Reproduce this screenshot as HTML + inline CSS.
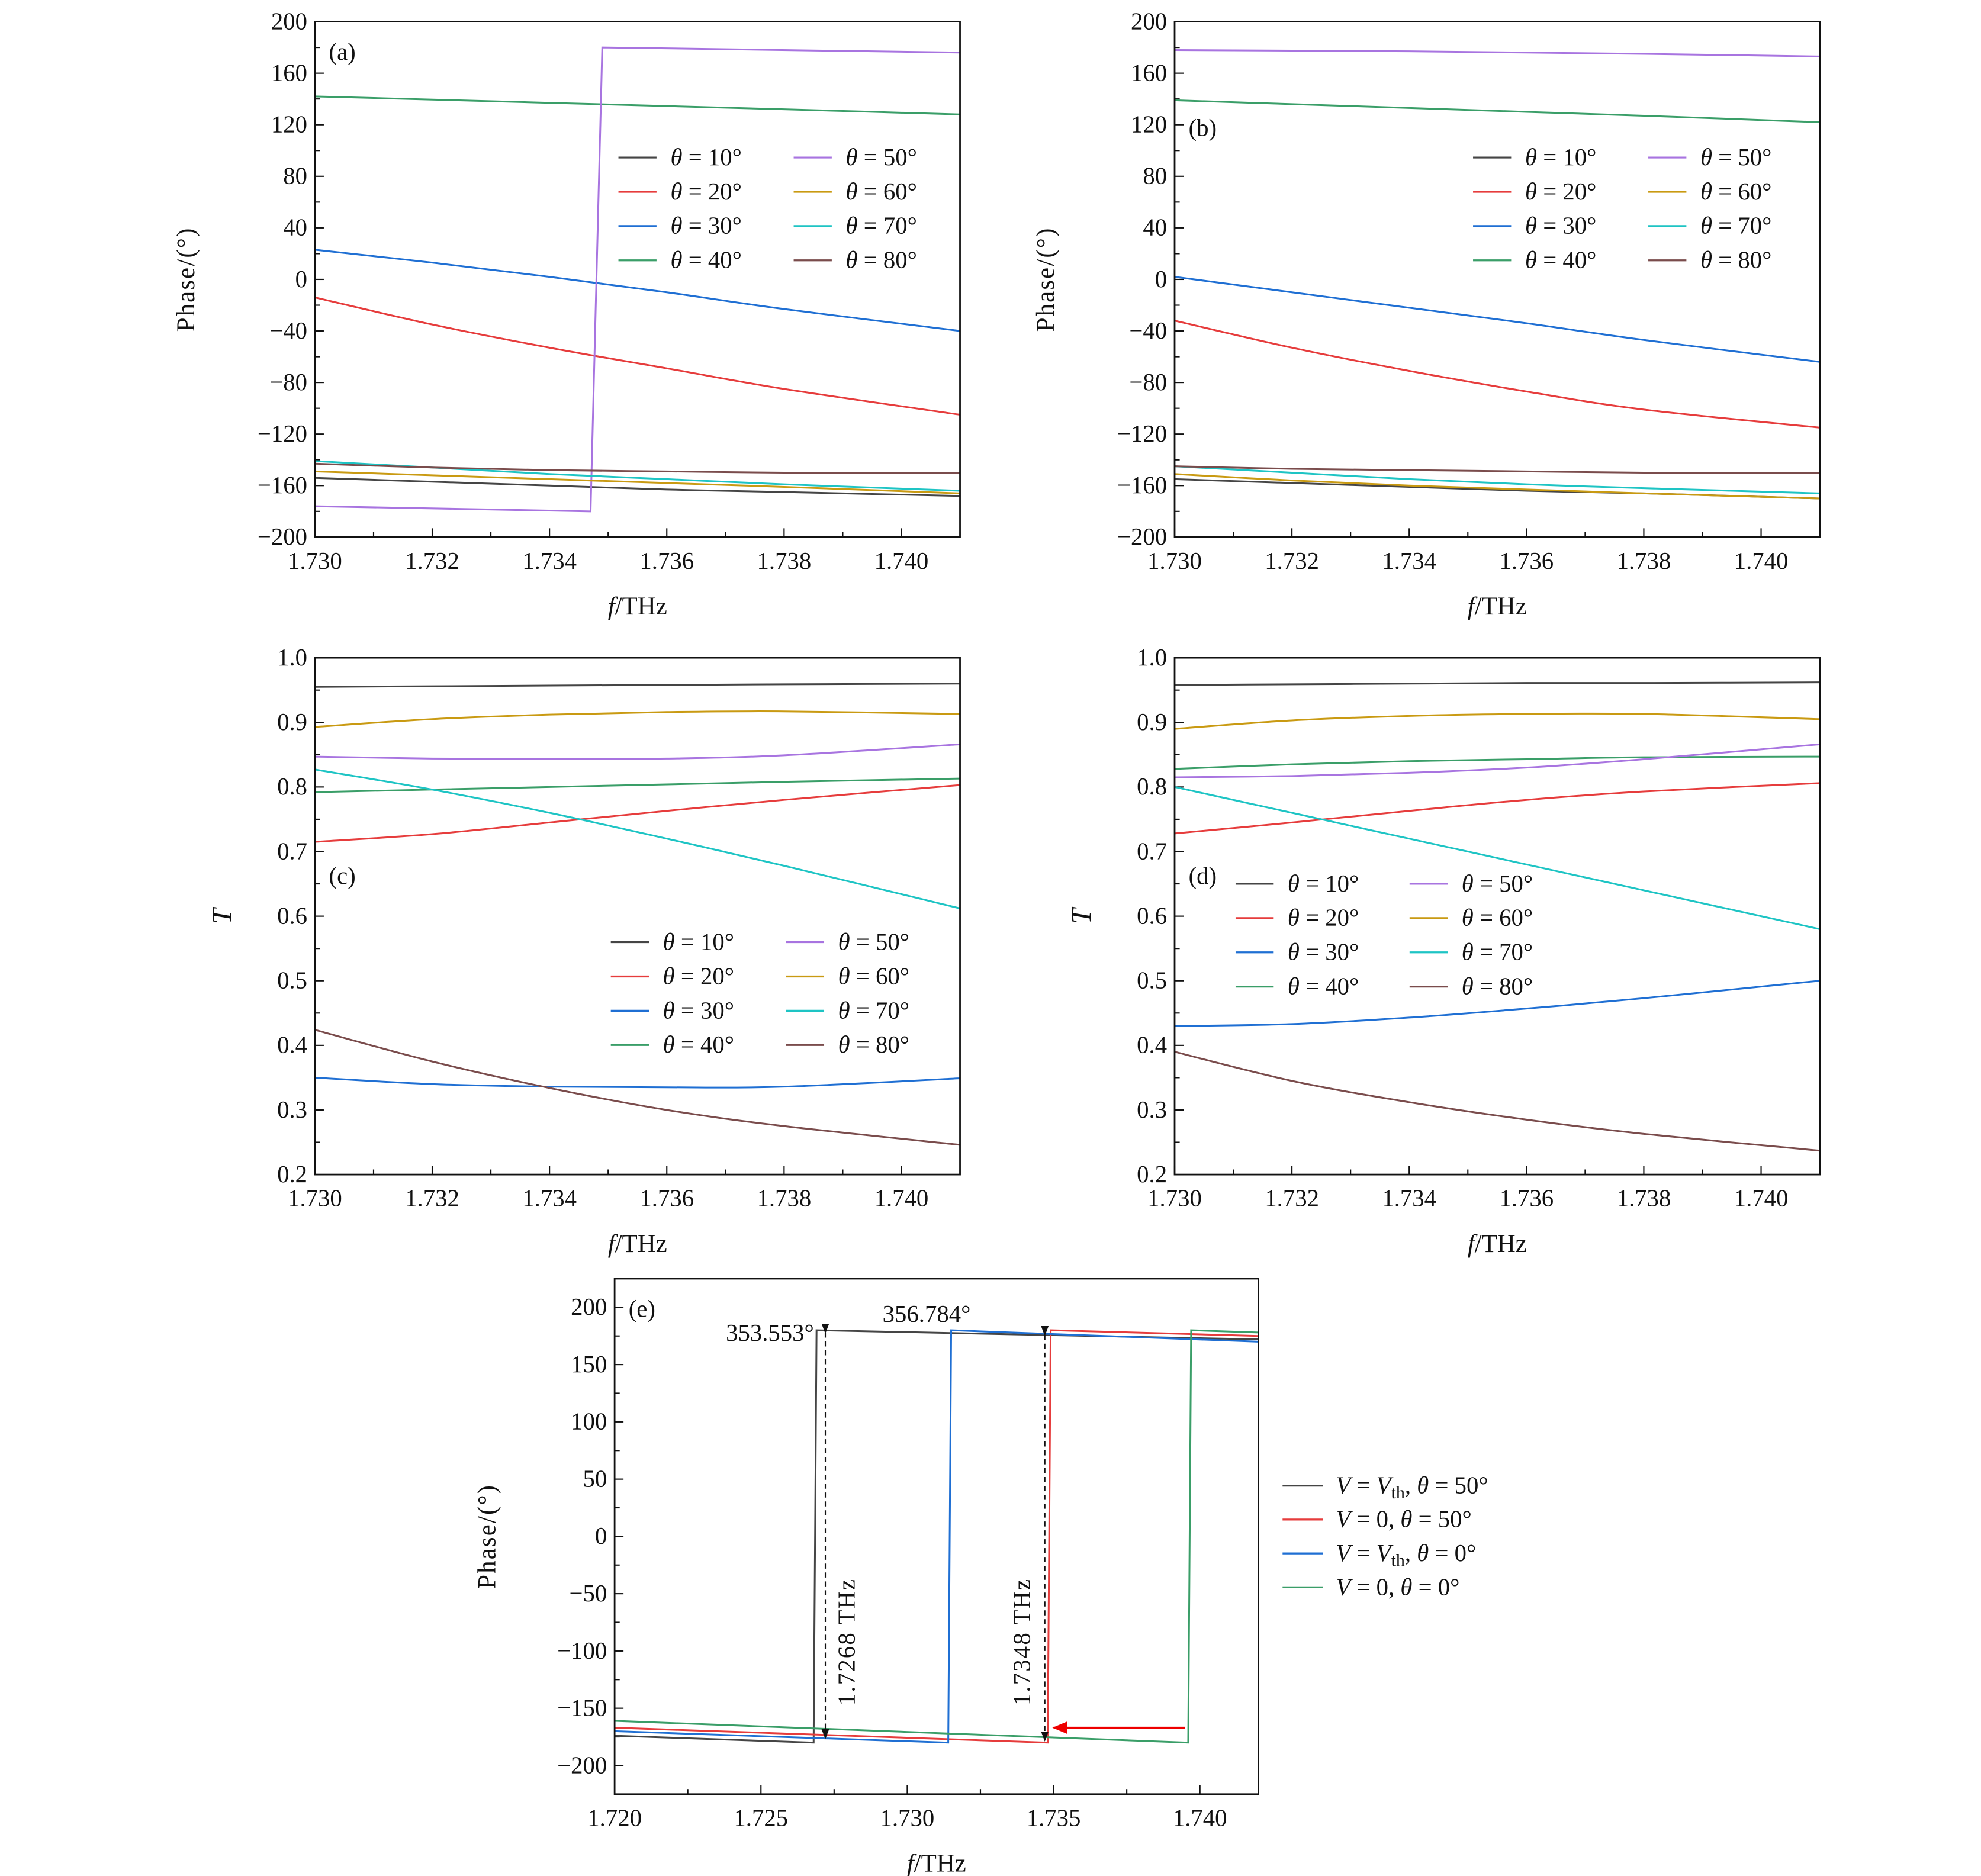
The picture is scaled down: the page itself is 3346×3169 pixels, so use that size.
<!DOCTYPE html>
<html><head><meta charset="utf-8"><style>
html,body{margin:0;padding:0;background:#fff}
svg{display:block}
text{font-family:"Liberation Serif",serif;fill:#111}
</style></head><body>
<svg id="fig" xmlns="http://www.w3.org/2000/svg" width="3346" height="3169" viewBox="0 0 1560 1477.4"></svg>
<script>
// ---- shared data ----
const xsAB = [1.730,1.732,1.734,1.736,1.738,1.741];
const seriesLabels = ["θ = 10°","θ = 20°","θ = 30°","θ = 40°","θ = 50°","θ = 60°","θ = 70°","θ = 80°"];
const colors = ["#454545","#e63c3c","#1f6fd3","#3a9e68","#a874e0","#c99a12","#1ec4c4","#7a4c4c"];
// panel (a) phase
const a10=[-154,-157,-160,-163,-165,-168];
const a20=[-14,-35,-53,-69,-85,-105];
const a30=[23,13,2,-10,-23,-40];
const a40=[142,139.5,137,134.5,132,128];
const a50x=[1.730,1.7347,1.7349,1.741];
const a50=[-176,-180,180,176];
const a60=[-149,-152,-155,-158,-161,-166];
const a70=[-141,-146,-151,-155,-159,-164];
const a80=[-143,-146,-148,-149,-150,-150];
// panel (b) phase
const b10=[-155,-158,-161,-164,-166,-170];
const b20=[-32,-53,-71,-87,-101,-115];
const b30=[2,-10,-22,-34,-47,-64];
const b40=[139,136,133,130,127,122];
const b50=[178,177.5,177,176,175,173];
const b60=[-151,-156,-160,-163,-166,-170];
const b70=[-145,-150,-155,-159,-162,-166];
const b80=[-145,-147,-148,-149,-150,-150];
// panel (c) transmission
const c10=[0.955,0.956,0.957,0.958,0.959,0.960];
const c20=[0.715,0.727,0.745,0.763,0.780,0.803];
const c30=[0.350,0.340,0.336,0.335,0.336,0.349];
const c40=[0.792,0.796,0.800,0.804,0.808,0.813];
const c50=[0.847,0.844,0.843,0.844,0.849,0.866];
const c60=[0.893,0.905,0.912,0.916,0.917,0.913];
const c70=[0.827,0.796,0.760,0.720,0.678,0.612];
const c80=[0.424,0.375,0.334,0.300,0.275,0.246];
// panel (d) transmission
const d10=[0.958,0.959,0.960,0.961,0.961,0.962];
const d20=[0.728,0.745,0.763,0.780,0.793,0.806];
const d30=[0.430,0.433,0.443,0.457,0.473,0.500];
const d40=[0.828,0.835,0.840,0.843,0.846,0.847];
const d50=[0.815,0.817,0.822,0.830,0.843,0.866];
const d60=[0.890,0.903,0.910,0.913,0.913,0.905];
const d70=[0.800,0.760,0.720,0.680,0.640,0.580];
const d80=[0.390,0.345,0.312,0.285,0.263,0.237];
// panel (e)
const eLabels=["V = Vth, θ = 50°","V = 0, θ = 50°","V = Vth, θ = 0°","V = 0, θ = 0°"];
const eColors=["#454545","#e63c3c","#1f6fd3","#3a9e68"];
const eBx=[1.720,1.7268,1.7269,1.742], eBy=[-174,-180,180,172];
const eRx=[1.720,1.7348,1.7349,1.742], eRy=[-167,-180,180,175];
const eUx=[1.720,1.7314,1.7315,1.742], eUy=[-170,-180,180,170];
const eGx=[1.720,1.7396,1.7397,1.742], eGy=[-161,-180,180,178];
const eArrowX=[1.7272,1.7347];
const eArrowTop=[178,176], eArrowBot=[-176,-178];
const eRedArrow=[1.7395,1.7350,-167];

const NS="http://www.w3.org/2000/svg";
const svg=document.getElementById('fig');
function mk(tag,attrs,parent,txt){const e=document.createElementNS(NS,tag);for(const k in attrs)e.setAttribute(k,attrs[k]);if(txt!==undefined)e.textContent=txt;(parent||svg).appendChild(e);return e;}
function catmull(pts){let d="M"+pts[0][0]+","+pts[0][1];for(let i=0;i<pts.length-1;i++){const p0=pts[i-1]||pts[i],p1=pts[i],p2=pts[i+1],p3=pts[i+2]||p2;
d+=" C"+(p1[0]+(p2[0]-p0[0])/6)+","+(p1[1]+(p2[1]-p0[1])/6)+" "+(p2[0]-(p3[0]-p1[0])/6)+","+(p2[1]-(p3[1]-p1[1])/6)+" "+p2[0]+","+p2[1];}return d;}
function fmt(v,dec){const s=Math.abs(v).toFixed(dec);return (v<-1e-9?"−":"")+s;}

function panel(o){
  const g=mk('g',{});
  const X=v=>o.L+(v-o.x0)/(o.x1-o.x0)*(o.R-o.L);
  const Y=v=>o.B-(v-o.y0)/(o.y1-o.y0)*(o.B-o.T);
  const yb=(o.yBase!==undefined)?o.yBase:o.y0;
  const ylo=(o.yLabLo!==undefined)?o.yLabLo:o.y0, yhi=(o.yLabHi!==undefined)?o.yLabHi:o.y1;
  for(let v=o.y0;v<=o.y1+1e-9;v+=o.ym){const k=(v-yb)/o.yM;const maj=Math.abs(k-Math.round(k))<1e-6;
    const t=mk('line',{x1:o.L,x2:o.L+(maj?7:4),y1:Y(v),y2:Y(v),stroke:'#111','stroke-width':1},g);
    if(maj&&v>=ylo-1e-9&&v<=yhi+1e-9){const l=mk('text',{x:o.L-6,y:Y(v)+6,'text-anchor':'end','font-size':19},g,fmt(v,o.yd));}}
  for(let v=o.x0;v<=o.x1+1e-9;v+=o.xm){const k=(v-o.x0)/o.xM;const maj=Math.abs(k-Math.round(k))<1e-6;
    const t=mk('line',{x1:X(v),x2:X(v),y1:o.B,y2:o.B-(maj?7:4),stroke:'#111'},g);
    if(maj){const l=mk('text',{x:X(v),y:o.B+25,'text-anchor':'middle','font-size':19},g,v.toFixed(3));}}
  const clip='clip-'+o.name;const cp=mk('clipPath',{id:clip},g);mk('rect',{x:o.L,y:o.T,width:o.R-o.L,height:o.B-o.T},cp);
  o.series.forEach((s,i)=>{const pts=s.x.map((x,j)=>[X(x),Y(s.y[j])]);
    const d=s.smooth?catmull(pts):"M"+pts.map(p=>p.join(",")).join(" L");
    const p=mk('path',{d:d,fill:'none',stroke:s.c,'stroke-width':1.4,'clip-path':'url(#'+clip+')'},g);
    });
  mk('rect',{x:o.L,y:o.T,width:o.R-o.L,height:o.B-o.T,fill:'none',stroke:'#111','stroke-width':1.3},g);
  const xl=mk('text',{x:(o.L+o.R)/2,y:o.B+61,'text-anchor':'middle','font-size':20},g);
  mk('tspan',{'font-style':'italic'},xl,'f');mk('tspan',{},xl,'/THz');
  const yl=mk('text',{x:0,y:0,'text-anchor':'middle','font-size':o.yItalic?22:20,'font-style':o.yItalic?'italic':'normal','letter-spacing':o.yItalic?0:1,transform:'translate('+o.yTx+','+(o.T+o.B)/2+') rotate(-90)'},g,o.yTitle);
  
  const pl=mk('text',{x:o.pl[0],y:o.pl[1],'font-size':19},g,o.plTxt);
  return {g,X,Y};
}
function legend8(g,lx1,lx2,y0){
  seriesLabels.forEach((t,i)=>{const col=i<4?lx1:lx2;const y=y0+(i%4)*27;
    const le=mk('g',{},g);
    mk('line',{x1:col,x2:col+30,y1:y,y2:y,stroke:colors[i],'stroke-width':1.5},le);
    const tx=mk('text',{x:col+41,y:y+6,'font-size':19},le);
    mk('tspan',{'font-style':'italic'},tx,'θ');mk('tspan',{},tx,t.slice(1));});
}
const phaseA=[a10,a20,a30,a40,null,a60,a70,a80];
const phaseB=[b10,b20,b30,b40,b50,b60,b70,b80];
const tC=[c10,c20,c30,c40,c50,c60,c70,c80];
const tD=[d10,d20,d30,d40,d50,d60,d70,d80];
function ser(arr,smooth){return arr.map((y,i)=>y?{x:xsAB,y:y,c:colors[i],smooth:smooth}:null).filter(Boolean);}
const sa=ser(phaseA,true);sa.splice(4,0,{x:a50x,y:a50,c:colors[4],smooth:false});
const base={x0:1.730,x1:1.741,xM:0.002,xm:0.001};
let P=panel(Object.assign({name:'panel-a',L:248,R:756,T:17,B:423,y0:-200,y1:200,yM:40,ym:20,yd:0,yTitle:'Phase/(°)',yTx:153,pl:[259,47],plTxt:'(a)',series:sa},base));
legend8(P.g,487,625,124);
P=panel(Object.assign({name:'panel-b',L:925,R:1433,T:17,B:423,y0:-200,y1:200,yM:40,ym:20,yd:0,yTitle:'Phase/(°)',yTx:830,pl:[936,107],plTxt:'(b)',series:ser(phaseB,true)},base));
legend8(P.g,1160,1298,124);
P=panel(Object.assign({name:'panel-c',L:248,R:756,T:518,B:925,y0:0.2,y1:1.0,yM:0.1,ym:0.05,yd:1,yTitle:'T',yItalic:true,yTx:182,pl:[259,696],plTxt:'(c)',series:ser(tC,true)},base));
legend8(P.g,481,619,742);
P=panel(Object.assign({name:'panel-d',L:925,R:1433,T:518,B:925,y0:0.2,y1:1.0,yM:0.1,ym:0.05,yd:1,yTitle:'T',yItalic:true,yTx:859,pl:[936,696],plTxt:'(d)',series:ser(tD,true)},base));
legend8(P.g,973,1110,696);
P=panel({name:'panel-e',L:484,R:991,T:1007,B:1413,x0:1.720,x1:1.742,xM:0.005,xm:0.0025,y0:-225,y1:225,yM:50,ym:25,yBase:-200,yLabLo:-200,yLabHi:200,yd:0,yTitle:'Phase/(°)',yTx:390,pl:[495,1037],plTxt:'(e)',
  series:[{x:eBx,y:eBy,c:eColors[0]},{x:eRx,y:eRy,c:eColors[1]},{x:eUx,y:eUy,c:eColors[2]},{x:eGx,y:eGy,c:eColors[3]}]});
const defs=mk('defs',{});
const mkr=mk('marker',{id:'ah',markerWidth:8,markerHeight:8,refX:7,refY:4,orient:'auto',markerUnits:'userSpaceOnUse'},defs);mk('path',{d:'M0,1 L8,4 L0,7 Z',fill:'#111'},mkr);
const mkr2=mk('marker',{id:'ahr',markerWidth:12,markerHeight:10,refX:11,refY:5,orient:'auto',markerUnits:'userSpaceOnUse'},defs);mk('path',{d:'M0,0 L12,5 L0,10 Z',fill:'#e00'},mkr2);
eArrowX.forEach((x,i)=>{const l=mk('line',{x1:P.X(x),x2:P.X(x),y1:P.Y(eArrowTop[i]),y2:P.Y(eArrowBot[i]),stroke:'#111','stroke-width':1,'stroke-dasharray':'4,3','marker-start':'url(#ah)','marker-end':'url(#ah)'},P.g);
  });
const ra=mk('line',{x1:P.X(eRedArrow[0]),x2:P.X(eRedArrow[1]),y1:P.Y(eRedArrow[2]),y2:P.Y(eRedArrow[2]),stroke:'#e00','stroke-width':1.6,'marker-end':'url(#ahr)'},P.g);

let t=mk('text',{x:641,y:1056,'text-anchor':'end','font-size':19},P.g,'353.553°');
t=mk('text',{x:695,y:1041,'font-size':19},P.g,'356.784°');
t=mk('text',{x:0,y:0,'font-size':19,'letter-spacing':1,'text-anchor':'middle',transform:'translate(673,1293) rotate(-90)'},P.g,'1.7268 THz');
t=mk('text',{x:0,y:0,'font-size':19,'letter-spacing':1,'text-anchor':'middle',transform:'translate(811,1293) rotate(-90)'},P.g,'1.7348 THz');
eLabels.forEach((lab,i)=>{const y=1170+i*26.7;const le=mk('g',{},P.g);
  mk('line',{x1:1010,x2:1042,y1:y,y2:y,stroke:eColors[i],'stroke-width':1.5},le);
  const tx=mk('text',{x:1052,y:y+6,'font-size':19},le);
  const parts=lab.split(', ');const vp=parts[0].split(' = ');
  mk('tspan',{'font-style':'italic'},tx,'V');mk('tspan',{},tx,' = ');
  if(vp[1]==='Vth'){mk('tspan',{'font-style':'italic'},tx,'V');mk('tspan',{'font-size':14,dy:4},tx,'th');mk('tspan',{dy:-4},tx,', ');}else{mk('tspan',{},tx,'0, ');}
  mk('tspan',{'font-style':'italic'},tx,'θ');mk('tspan',{},tx,parts[1].slice(1));});
</script>
</body></html>
